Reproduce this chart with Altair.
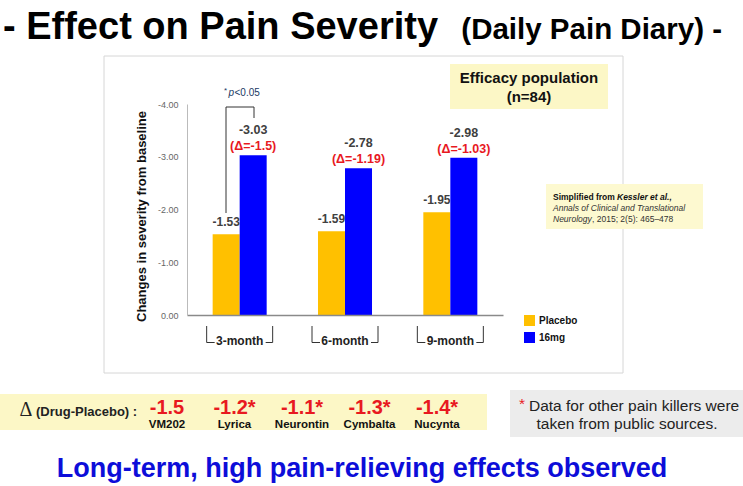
import altair as alt
import pandas as pd

# ---------------- data ----------------
months = ["3-month", "6-month", "9-month"]
series = ["Placebo", "16mg"]
placebo_vals = [-1.53, -1.59, -1.95]
drug_vals = [-3.03, -2.78, -2.98]
delta_labels = ["(Δ=-1.5)", "(Δ=-1.19)", "(Δ=-1.03)"]
y_ticks = [0, -1, -2, -3, -4]
drugs = ["VM202", "Lyrica", "Neurontin", "Cymbalta", "Nucynta"]
drug_deltas = ["-1.5", "-1.2*", "-1.1*", "-1.3*", "-1.4*"]
series_colors = ["#FFC000", "#0000FF"]

# ---------------- layout ----------------
L, T = 187, 104          # plot origin in the canvas
W, H = 316, 211          # plot area
CW, CH = 743, 486
SANS = "Liberation Sans, Arial"
YELLOW = "#fcf7c6"


def px(v):
    return v - L


def py(v):
    return v - T


one = pd.DataFrame({"k": [0]})


def rect(x1, y1, x2, y2, **kw):
    return alt.Chart(one).mark_rect(**kw).encode(
        x=alt.value(px(x1)), x2=alt.value(px(x2)),
        y=alt.value(py(y1)), y2=alt.value(py(y2)))


def seg(x1, y1, x2, y2, color="#333333", w=1):
    return alt.Chart(one).mark_rule(color=color, strokeWidth=w).encode(
        x=alt.value(px(x1)), x2=alt.value(px(x2)),
        y=alt.value(py(y1)), y2=alt.value(py(y2)))


def label(text, x, y, size, **kw):
    kw.setdefault("font", SANS)
    kw.setdefault("color", "#111111")
    return alt.Chart(one).mark_text(text=text, fontSize=size, **kw).encode(
        x=alt.value(px(x)), y=alt.value(py(y)))


# ---------------- bar chart ----------------
rows = []
for i, m in enumerate(months):
    rows.append({"month": m, "series": series[0], "value": placebo_vals[i], "delta": ""})
    rows.append({"month": m, "series": series[1], "value": drug_vals[i], "delta": delta_labels[i]})
bars_df = pd.DataFrame(rows)
bars_df["txt"] = bars_df["value"].map(lambda v: f"{v:.2f}")

x_axis = alt.Axis(title=None, labelAngle=0, ticks=False, labelFont=SANS, labelFontSize=12,
                  labelFontWeight="bold", labelColor="#222222", labelBaseline="middle",
                  labelPadding=25, domainColor="#8a8a8a", domainWidth=1.5, zindex=1)
x_enc = alt.X("month:N", sort=months, scale=alt.Scale(paddingInner=0, paddingOuter=0), axis=x_axis)
xo_enc = alt.XOffset("series:N", sort=series, scale=alt.Scale(paddingInner=0, paddingOuter=0.95))
y_enc = alt.Y("value:Q", scale=alt.Scale(domain=[0, -4], nice=False),
              axis=alt.Axis(values=y_ticks, title=None, grid=False, ticks=False,
                            labelExpr="datum.value < 0 ? '-' + format(-datum.value, '.2f') : format(datum.value, '.2f')",
                            labelFont=SANS, labelFontSize=9, labelColor="#666666",
                            labelPadding=9, domainColor="#bbbbbb", zindex=1))

base = alt.Chart(bars_df).encode(x=x_enc, xOffset=xo_enc, y=y_enc)

bars = base.mark_bar().encode(
    color=alt.Color("series:N", scale=alt.Scale(domain=series, range=series_colors), legend=None))

lab_p = base.transform_filter(alt.datum.series == series[0]).mark_text(
    dy=-12, font=SANS, fontSize=12, fontWeight="bold", color="#404040"
).encode(text="txt:N")
lab_d = base.transform_filter(alt.datum.series == series[1]).mark_text(
    dy=-25, font=SANS, fontSize=12.5, fontWeight="bold", color="#404040"
).encode(text="txt:N")
lab_delta = base.transform_filter(alt.datum.series == series[1]).mark_text(
    dy=-9, font=SANS, fontSize=12.5, fontWeight="bold", color="#e8191f"
).encode(text="delta:N")

# brackets around the month labels
mdf = pd.DataFrame({"month": months})
xb = alt.X("month:N", sort=months, bandPosition=0.5, scale=alt.Scale(paddingInner=0, paddingOuter=0), axis=x_axis)
x2b = alt.X2("month:N", bandPosition=0.5)
br = []
for off in (-33, 33):
    br.append(alt.Chart(mdf).mark_rule(xOffset=off, color="#333333").encode(
        x=xb, y=alt.value(py(326)), y2=alt.value(py(342.5))))
br.append(alt.Chart(mdf).mark_rule(xOffset=-33, x2Offset=-25, color="#333333").encode(
    x=xb, x2=x2b, y=alt.value(py(342.5))))
br.append(alt.Chart(mdf).mark_rule(xOffset=26, x2Offset=33, color="#333333").encode(
    x=xb, x2=x2b, y=alt.value(py(342.5))))

main = alt.layer(bars, lab_p, lab_d, lab_delta, *br)

# ---------------- drug comparison row ----------------
drug_df = pd.DataFrame({"drug": drugs, "delta": drug_deltas})
dx = alt.X("drug:N", sort=drugs, scale=alt.Scale(type="point", range=[px(167), px(437)], padding=0), axis=None)
d_vals = alt.Chart(drug_df).mark_text(font=SANS, fontSize=20, fontWeight="bold", color="#e8191f").encode(
    x=dx, y=alt.value(py(408)), text="delta:N")
d_names = alt.Chart(drug_df).mark_text(font=SANS, fontSize=11.5, fontWeight="bold", color="#111111").encode(
    x=dx, y=alt.value(py(425)), text="drug:N")
drug_row = alt.layer(d_vals, d_names)

# ---------------- decorations ----------------
deco_back = [
    rect(104, 56, 623, 373, fillOpacity=0, stroke="#d6d6d6", strokeWidth=1),
    rect(450, 64, 608, 109, fill=YELLOW),
    rect(546, 184, 703, 229, fill="#fdf9d0"),
    rect(0, 394, 487, 430, fill=YELLOW),
    rect(510, 390, 743, 437, fill="#ececec"),
]

deco_front = [
    # title
    label("- Effect on Pain Severity", 3, 39, 38, fontWeight="bold", align="left",
          baseline="alphabetic", color="#000000"),
    label("(Daily Pain Diary) -", 722, 39, 29.5, fontWeight="bold", align="right",
          baseline="alphabetic", color="#000000"),
    # y axis title
    label("Changes in severity from baseline", 142, 216.5, 13, fontWeight="bold", angle=270),
    # significance bracket
    seg(226, 107, 226, 213), seg(226, 107, 254, 107), seg(254, 107, 254, 118),
    label("*", 224, 91, 8, align="left", color="#203864"),
    label("p", 228.5, 93, 10, fontStyle="italic", align="left", color="#203864"),
    label("<0.05", 234.5, 93, 10, align="left", color="#203864"),
    # efficacy box
    label("Efficacy population", 529, 78, 15, fontWeight="bold"),
    label("(n=84)", 529, 97, 15, fontWeight="bold"),
    # citation
    label("Simplified from ", 553, 197, 8.5, fontWeight="bold", align="left"),
    label("Kessler et al.,", 617, 197, 8.5, fontWeight="bold", fontStyle="italic", align="left"),
    label("Annals of Clinical and Translational", 553, 208, 8.5, fontStyle="italic", align="left",
          color="#333333"),
    label("Neurology", 553, 219, 8.5, fontStyle="italic", align="left", color="#333333"),
    label(", 2015; 2(5): 465\u2013478", 592, 219, 8.5, align="left", color="#333333"),
    # legend
    rect(524, 315, 535, 326, fill=series_colors[0]),
    rect(524, 332, 535, 343, fill=series_colors[1]),
    label(series[0], 539, 320.5, 10, fontWeight="bold", align="left"),
    label(series[1], 539, 337.5, 10, fontWeight="bold", align="left"),
    # delta row header
    label("\u0394", 26, 410, 20, font="Liberation Serif, DejaVu Serif", align="center", color="#222222"),
    label("(Drug-Placebo) :", 36, 412, 13, fontWeight="bold", align="left", color="#222222"),
    # note
    label("*", 519, 404, 15.5, align="left", color="#e8191f"),
    label("Data for other pain killers were", 529, 406, 15.5, align="left", color="#222222"),
    label("taken from public sources.", 627, 424, 15.5, align="center", color="#222222"),
    # conclusion
    label("Long-term, high pain-relieving effects observed", 362, 477, 27,
          fontWeight="bold", baseline="alphabetic", color="#0d0dd9"),
]

chart = alt.layer(*deco_back, main, drug_row, *deco_front).resolve_scale(
    x="independent"
).properties(
    width=W, height=H,
    autosize=alt.AutoSizeParams(type="none"),
    padding={"left": L, "top": T, "right": CW - L - W, "bottom": CH - T - H},
    background="white",
).configure_view(stroke=None)

chart.save("out.html", embed_options={"renderer": "svg", "actions": False})
